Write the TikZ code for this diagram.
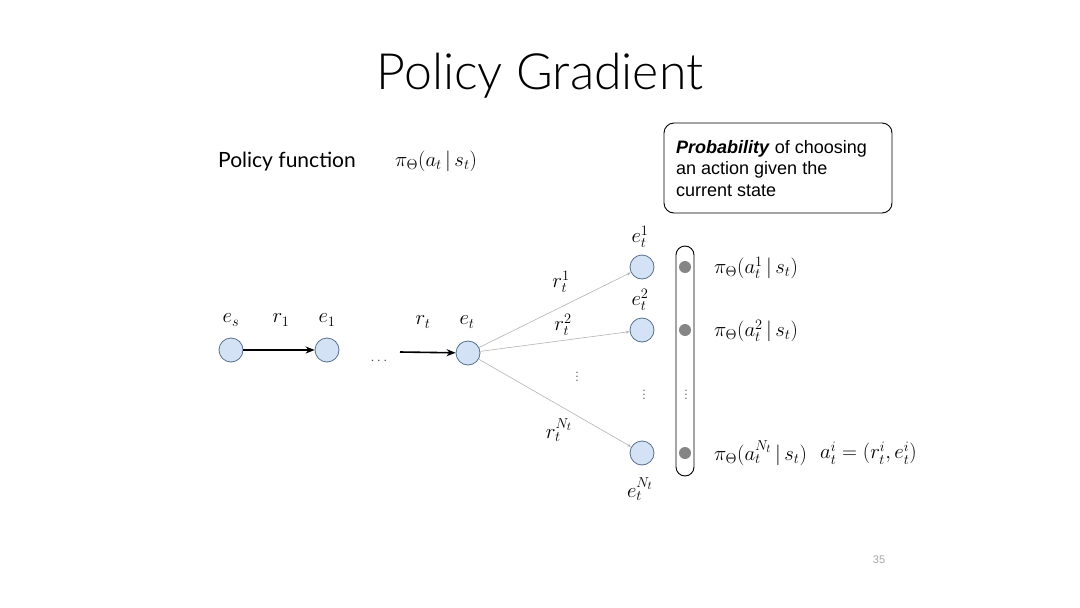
\documentclass[tikz,border=0pt]{standalone}
\usepackage{fontspec}
\newfontfamily\titlefont{Lato Light}
\newfontfamily\subfont{Lato}
\newfontfamily\boxfont{Liberation Sans}
\usetikzlibrary{arrows.meta}
\definecolor{nodefill}{HTML}{D3E3F5}
\definecolor{nodeedge}{HTML}{56708F}
\definecolor{dotgray}{HTML}{858585}
\definecolor{fangray}{HTML}{B4B4B4}
\begin{document}
\begin{tikzpicture}[x=1pt,y=-1pt,
  ent/.style={circle,draw=nodeedge,fill=nodefill,line width=0.8pt,minimum size=24pt,inner sep=0pt},
  gdot/.style={circle,fill=dotgray,minimum size=12pt,inner sep=0pt},
  lab/.style={font=\fontsize{20.74}{25}\selectfont,inner sep=0pt},
  smalldots/.style={font=\fontsize{14.4}{16}\selectfont,inner sep=0pt,text=black!70},
  mainarrow/.style={-{Stealth[length=9pt,width=7pt]},line width=1.6pt,black},
  fanarrow/.style={-{Stealth[length=4pt,width=3pt]},line width=0.6pt,fangray}]
\useasboundingbox (0,0) rectangle (1080,608);
\fill[white] (0,0) rectangle (1080,608);
% title
\node[inner sep=0pt,font=\titlefont\fontsize{50}{56}\selectfont] (title) at (540,76) {Policy Gradient};
\node[inner sep=0pt,anchor=west,font=\subfont\fontsize{21}{25}\selectfont] (pf) at (218,162) {Policy function};
\node[lab,anchor=west] (pfm) at (395,161) {$\pi_\Theta(a_t\,|\,s_t)$};
% callout box
\node[draw,rounded corners=10pt,line width=0.9pt,minimum width=228pt,minimum height=90pt,inner sep=0pt] (box) at (778,168) {};
\node[anchor=north west,align=left,inner sep=0pt,font=\boxfont\fontsize{18}{21.5}\selectfont] (boxtxt) at (676,140) {\textbf{\textit{Probability}} of choosing\\an action given the\\current state};
% entity nodes
\node[ent] (es) at (231,350) {};
\node[ent] (e1) at (327,350) {};
\node[ent] (et) at (468,353) {};
\node[ent] (ea) at (642,267) {};
\node[ent] (eb) at (642,330) {};
\node[ent] (en) at (642,453) {};
\coordinate (cstart) at (400,352);
% labels
\node[lab] (les) at (231,320) {$e_s$};
\node[lab] (lr1) at (281,320) {$r_1$};
\node[lab] (le1) at (327,320) {$e_1$};
\node[smalldots] (ldots) at (379,361) {$\cdots$};
\node[lab] (lrt) at (423,322) {$r_t$};
\node[lab] (let) at (467,322) {$e_t$};
\node[lab] (lra) at (561,282) {$r_t^1$};
\node[lab] (lrb) at (563,325) {$r_t^2$};
\node[smalldots] (lrv) at (577,374) {$\vdots$};
\node[lab] (lrn) at (559,430) {$r_t^{N_t}$};
\node[lab] (lea) at (640,237) {$e_t^1$};
\node[lab] (leb) at (640,300) {$e_t^2$};
\node[lab] (len) at (640,489) {$e_t^{N_t}$};
\node[smalldots] (lev) at (644,392) {$\vdots$};
% arrows
\draw[mainarrow] (es) -- (e1);
\draw[mainarrow] (cstart) -- (et);
\draw[fanarrow] (et) -- (ea);
\draw[fanarrow] (et) -- (eb);
\draw[fanarrow] (et) -- (en);
% capsule
\node[draw,rounded corners=9pt,line width=0.9pt,minimum width=18pt,minimum height=230pt,inner sep=0pt] (caps) at (685,361) {};
\node[gdot] (da) at (685,267) {};
\node[gdot] (db) at (685,330) {};
\node[gdot] (dn) at (685,453) {};
\node[smalldots] (dv) at (686,392) {$\vdots$};
% probabilities
\node[lab,anchor=west] (pa) at (714,268) {$\pi_\Theta(a_t^1\,|\,s_t)$};
\node[lab,anchor=west] (pb) at (714,331) {$\pi_\Theta(a_t^2\,|\,s_t)$};
\node[lab,anchor=west] (pn) at (714,453) {$\pi_\Theta(a_t^{N_t}\,|\,s_t)$};
\node[lab,anchor=west] (ai) at (820,453) {$a_t^i=(r_t^i,e_t^i)$};
% page number
\node[inner sep=0pt,text=black!35,font=\boxfont\fontsize{11}{13}\selectfont] (pg) at (879,560) {35};
\end{tikzpicture}
\end{document}
